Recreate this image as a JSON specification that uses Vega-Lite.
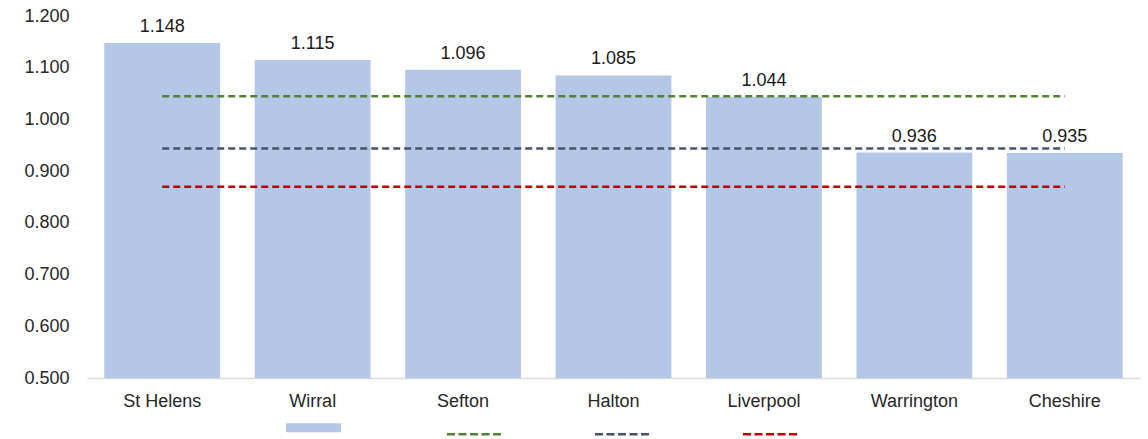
{
  "$schema": "https://vega.github.io/schema/vega-lite/v6.json",
  "width": 1053,
  "height": 362,
  "autosize": {"type": "none"},
  "padding": {"left": 87, "top": 16, "right": 8, "bottom": 61},
  "config": {
    "view": {"stroke": null},
    "font": "Liberation Sans",
    "legend": {
      "orient": "none",
      "direction": "horizontal",
      "legendX": 225,
      "legendY": 410,
      "padding": 0,
      "labelOffset": 0,
      "labelFontSize": 1,
      "columnPadding": 83,
      "symbolType": "stroke",
      "symbolSize": 3025,
      "symbolStrokeWidth": 2.5,
      "symbolDash": [8, 3.5],
      "symbolOpacity": 1
    }
  },
  "datasets": {
    "areas": [
      {"area": "St Helens", "ratio": 1.148},
      {"area": "Wirral", "ratio": 1.115},
      {"area": "Sefton", "ratio": 1.096},
      {"area": "Halton", "ratio": 1.085},
      {"area": "Liverpool", "ratio": 1.044},
      {"area": "Warrington", "ratio": 0.936},
      {"area": "Cheshire", "ratio": 0.935}
    ],
    "benchmarks": [
      {"series": "Benchmark 1", "area": "St Helens", "ratio": 1.045},
      {"series": "Benchmark 1", "area": "Cheshire", "ratio": 1.045},
      {"series": "Benchmark 2", "area": "St Helens", "ratio": 0.944},
      {"series": "Benchmark 2", "area": "Cheshire", "ratio": 0.944},
      {"series": "Benchmark 3", "area": "St Helens", "ratio": 0.870},
      {"series": "Benchmark 3", "area": "Cheshire", "ratio": 0.870}
    ]
  },
  "encoding": {
    "x": {
      "field": "area",
      "type": "nominal",
      "scale": {
        "domain": ["St Helens", "Wirral", "Sefton", "Halton", "Liverpool", "Warrington", "Cheshire"],
        "paddingInner": 0.23,
        "paddingOuter": 0.115
      },
      "axis": {
        "title": null,
        "labelAngle": 0,
        "labelFontSize": 18,
        "labelColor": "#262626",
        "labelPadding": 14,
        "ticks": false,
        "grid": false,
        "domainColor": "#D9D9D9",
        "domainWidth": 1.5
      }
    },
    "y": {
      "field": "ratio",
      "type": "quantitative",
      "scale": {"domain": [0.5, 1.2], "zero": false, "nice": false},
      "axis": {
        "title": null,
        "values": [0.5, 0.6, 0.7, 0.8, 0.9, 1.0, 1.1, 1.2],
        "format": ".3f",
        "domain": false,
        "ticks": false,
        "grid": false,
        "labelFontSize": 18,
        "labelColor": "#262626",
        "labelPadding": 18
      }
    }
  },
  "layer": [
    {
      "data": {"name": "areas"},
      "mark": {"type": "bar"},
      "encoding": {
        "y2": {"datum": 0.5},
        "color": {
          "datum": "Area",
          "type": "nominal",
          "scale": {
            "domain": ["Area", "Benchmark 1", "Benchmark 2", "Benchmark 3"],
            "range": ["#B4C7E7", "#548235", "#44546A", "#C00000"]
          },
          "legend": {
            "title": null,
            "labelExpr": "''",
            "encode": {
              "symbols": {
                "update": {
                  "stroke": {"signal": "scale('color', datum.value)"},
                  "strokeWidth": {"signal": "datum.value === 'Area' ? 9 : 2.5"},
                  "strokeDash": {"signal": "datum.value === 'Area' ? [1, 0] : [8, 3.5]"}
                }
              }
            }
          }
        }
      }
    },
    {
      "data": {"name": "areas"},
      "mark": {"type": "text", "baseline": "alphabetic", "dy": -11, "fontSize": 18, "color": "#1a1a1a"},
      "encoding": {
        "text": {"field": "ratio", "type": "quantitative", "format": ".3f"}
      }
    },
    {
      "data": {"name": "benchmarks"},
      "mark": {"type": "line", "strokeWidth": 2.5, "strokeDash": [7, 4]},
      "encoding": {
        "color": {
          "field": "series",
          "type": "nominal",
          "legend": {
            "title": null,
            "labelExpr": "''",
            "encode": {
              "symbols": {
                "update": {
                  "stroke": {"signal": "scale('color', datum.value)"},
                  "strokeWidth": {"signal": "datum.value === 'Area' ? 9 : 2.5"},
                  "strokeDash": {"signal": "datum.value === 'Area' ? [1, 0] : [8, 3.5]"}
                }
              }
            }
          }
        }
      }
    }
  ],
  "resolve": {"scale": {"color": "shared"}}
}
